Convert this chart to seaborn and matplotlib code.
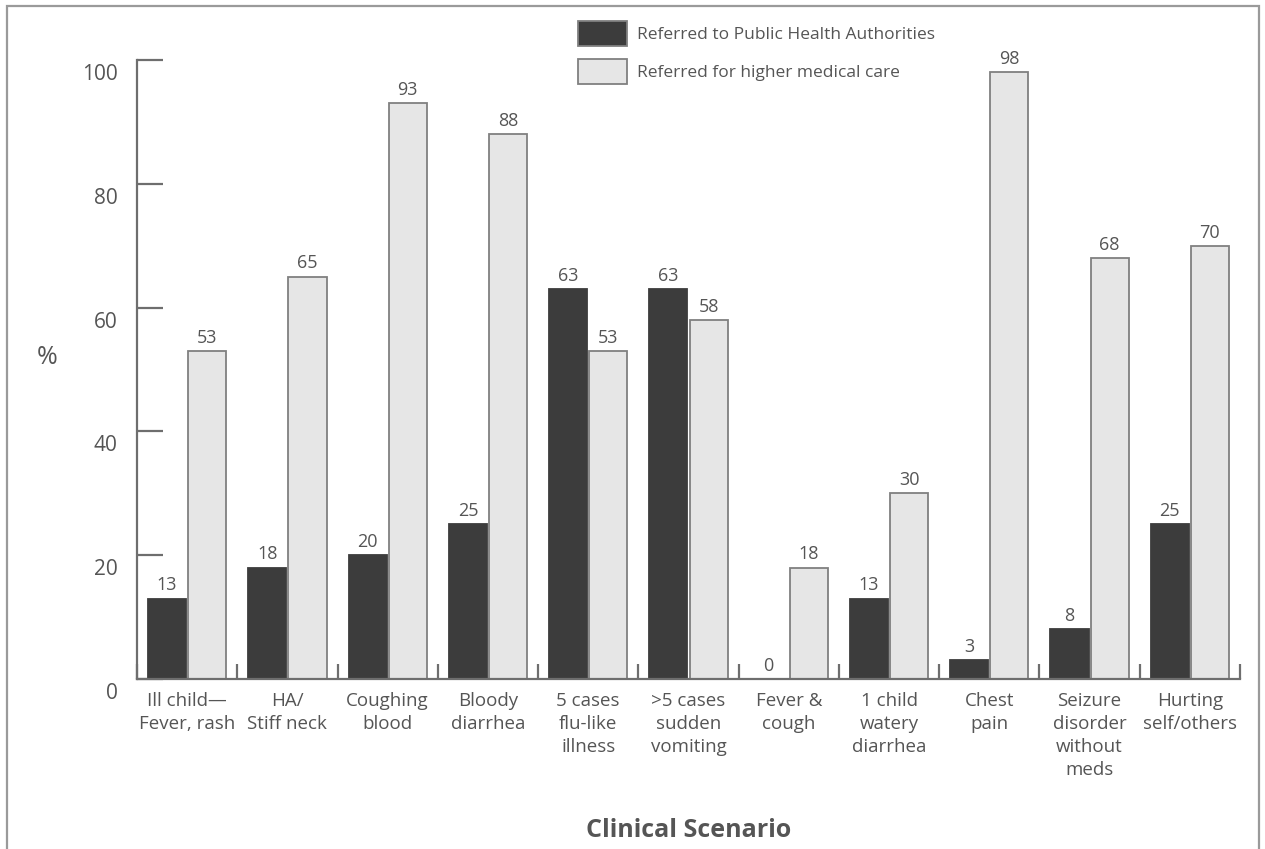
import matplotlib
matplotlib.use("Agg")
import matplotlib.pyplot as plt
import matplotlib.transforms as mtransforms
from matplotlib.patches import Rectangle
import seaborn as sns
import pandas as pd

categories = ["Ill child—\nFever, rash", "HA/\nStiff neck", "Coughing\nblood", "Bloody\ndiarrhea",
              "5 cases\nflu-like\nillness", ">5 cases\nsudden\nvomiting", "Fever &\ncough",
              "1 child\nwatery\ndiarrhea", "Chest\npain", "Seizure\ndisorder\nwithout\nmeds",
              "Hurting\nself/others"]
public_health = [13, 18, 20, 25, 63, 63, 0, 13, 3, 8, 25]
higher_care = [53, 65, 93, 88, 53, 58, 18, 30, 98, 68, 70]
series_names = ["Referred to Public Health Authorities", "Referred for higher medical care"]
y_ticks = [0, 20, 40, 60, 80, 100]

df = pd.DataFrame({
    "Scenario": categories * 2,
    "Percent": public_health + higher_care,
    "Series": [series_names[0]] * len(categories) + [series_names[1]] * len(categories),
})

sns.set_theme(style="white")
plt.rcParams["font.family"] = ["Open Sans", "DejaVu Sans"]

TXT = "#555555"
AX = "#6e6e6e"

fig = plt.figure(figsize=(12.65, 8.49), dpi=100)
ax = fig.add_axes([137 / 1265, 1 - 679 / 849, (1240 - 137) / 1265, (679 - 60) / 849])

sns.barplot(data=df, x="Scenario", y="Percent", hue="Series", order=categories,
            hue_order=series_names, palette=["#3c3c3c", "#e6e6e6"], width=0.8, gap=0.05,
            edgecolor="#808080", linewidth=1.3, ax=ax, legend=True, saturation=1)

for p in ax.containers[0]:
    p.set_edgecolor("#3c3c3c")

for c in ax.containers:
    ax.bar_label(c, padding=3, fontsize=13, color=TXT)

ax.set_xlim(-0.5, len(categories) - 0.5)
ax.set_ylim(0, 100)
ax.set_yticks(y_ticks)
ax.set_yticklabels([str(v) for v in y_ticks], fontsize=15, color=TXT)
ax.tick_params(axis="y", direction="in", length=19, width=1.6, color=AX, pad=14, left=True)
offset = mtransforms.ScaledTranslation(0, -12 / 100, fig.dpi_scale_trans)
for lab in ax.get_yticklabels():
    lab.set_transform(lab.get_transform() + offset)

ax.set_xticks(range(len(categories)))
ax.set_xticklabels(categories, fontsize=13.5, color=TXT, linespacing=1.38)
ax.tick_params(axis="x", which="major", length=0, pad=9)
ax.set_xticks([i - 0.5 for i in range(len(categories) + 1)], minor=True)
ax.tick_params(axis="x", which="minor", direction="in", length=11, width=1.6, color=AX, bottom=True)

for s in ["top", "right"]:
    ax.spines[s].set_visible(False)
for s in ["left", "bottom"]:
    ax.spines[s].set_color(AX)
    ax.spines[s].set_linewidth(1.6)

ax.set_ylabel("")
ax.set_xlabel("Clinical Scenario", fontsize=18, fontweight="bold", color=TXT, labelpad=0)
ax.xaxis.set_label_coords(0.5, -0.225)
fig.text(47 / 1265, 1 - 357 / 849, "%", fontsize=18, color=TXT, ha="center", va="center")

leg = ax.legend(loc="upper left", bbox_to_anchor=(578 / 1265, 1 - 21 / 849),
                bbox_transform=fig.transFigure, frameon=False, fontsize=12.5,
                handlelength=2.8, handleheight=1.85, labelspacing=0.75, handletextpad=0.6,
                borderaxespad=0, borderpad=0)
for t in leg.get_texts():
    t.set_color(TXT)
for h in leg.legend_handles:
    h.set_edgecolor("#808080")

fig.patches.append(Rectangle((7 / 1265, -0.05), (1259 - 7) / 1265, 1.05 - 6 / 849,
                             transform=fig.transFigure, fill=False, edgecolor="#9a9a9a",
                             linewidth=1.6, figure=fig))

fig.savefig("out.png", dpi=100)
